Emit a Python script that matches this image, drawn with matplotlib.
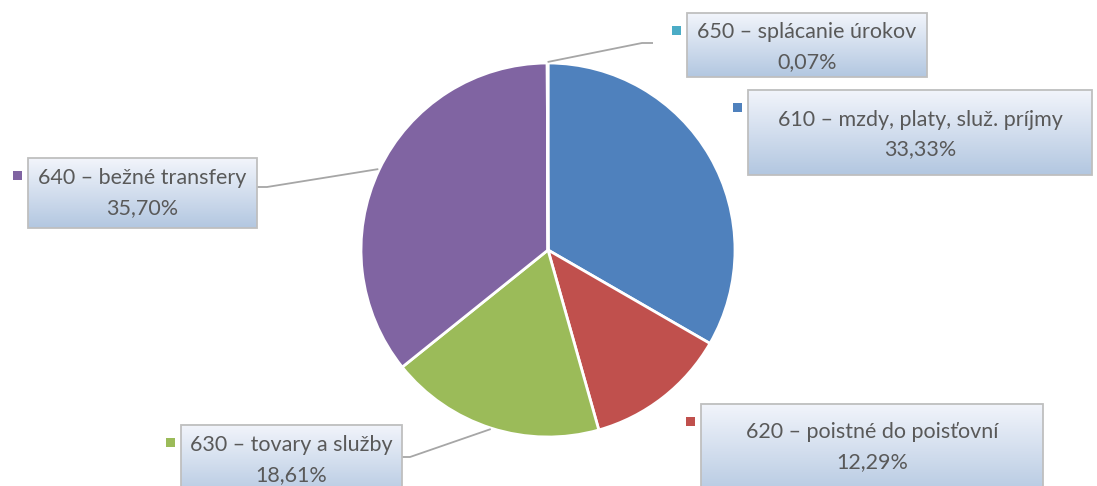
import numpy as np
import matplotlib
matplotlib.use("Agg")
import matplotlib.pyplot as plt
from matplotlib.patches import Rectangle

# data
codes = ["610", "620", "630", "640", "650"]
names = ["mzdy, platy, služ. príjmy", "poistné do poisťovní",
         "tovary a služby", "bežné transfery", "splácanie úrokov"]
shares = [33.33, 12.29, 18.61, 35.70, 0.07]
colors = ["#4F81BD", "#C0504D", "#9BBB59", "#8064A2", "#4BACC6"]

W, H = 1097, 486
CX, CY, R = 548, 250, 187

# label boxes in pixel coords: (x0, y0, x1, y1), first-line offset,
# leader line elbow points (box side) or None
boxes = {
    "610": ((748, 90, 1092, 175), 29.5, None),
    "620": ((701, 404, 1043, 500), 28, None),
    "630": ((181, 425, 402, 500), 20, [(402, 457), (410, 457)]),
    "640": ((28, 158, 257, 228), 20, [(257, 187), (267, 187)]),
    "650": ((687, 13, 927, 77), 19.5, [(653, 43), (642, 43)]),
}
FONT = ["Lato", "DejaVu Sans"]


def py(y):
    """pixel y (top-down) -> data y"""
    return H - y


fig = plt.figure(figsize=(W / 100, H / 100), dpi=100)
ax = fig.add_axes([0, 0, 1, 1])

wedges, _ = ax.pie(shares, colors=colors, startangle=90, counterclock=False,
                   center=(CX, py(CY)), radius=R, frame=True,
                   wedgeprops=dict(edgecolor="white", linewidth=2))

grad = np.linspace(0, 1, 256).reshape(-1, 1)
top = np.array([0.95, 0.96, 0.985])
bot = np.array([0.70, 0.78, 0.88])
img = (top + (bot - top) * grad).reshape(256, 1, 3)

for code, name, share, col, w in zip(codes, names, shares, colors, wedges):
    (x0, y0, x1, y1), off, elbow = boxes[code]
    # leader line
    if elbow is not None:
        ang = np.deg2rad((w.theta1 + w.theta2) / 2)
        sx = CX + (R + 1) * np.cos(ang)
        sy = py(CY) + (R + 1) * np.sin(ang)
        xs = [p[0] for p in elbow] + [sx]
        ys = [py(p[1]) for p in elbow] + [sy]
        ax.plot(xs, ys, color="#a6a6a6", lw=1.3, zorder=1,
                solid_capstyle="butt")
    ax.imshow(img, extent=(x0, x1, py(y1), py(y0)), aspect="auto",
              zorder=3, interpolation="bilinear")
    ax.add_patch(Rectangle((x0, py(y1)), x1 - x0, y1 - y0, fill=False,
                           edgecolor="#bfbfbf", lw=1.3, zorder=4))
    # marker square
    ax.add_patch(Rectangle((x0 - 15, py(y0 + 22)), 8.5, 8.5, facecolor=col,
                           edgecolor="none", zorder=4))
    xc = (x0 + x1) / 2
    ax.text(xc, py(y0 + off), f"{code} – {name}", ha="center", va="center",
            fontsize=15.5, color="#595959", family=FONT, zorder=5)
    ax.text(xc, py(y0 + off + 30), f"{share:.2f}%".replace(".", ","),
            ha="center", va="center", fontsize=15.5, color="#595959",
            family=FONT, zorder=5)

ax.set_xlim(0, W)
ax.set_ylim(0, H)
ax.set_aspect("equal")
ax.axis("off")
fig.savefig("out.png", dpi=100)
